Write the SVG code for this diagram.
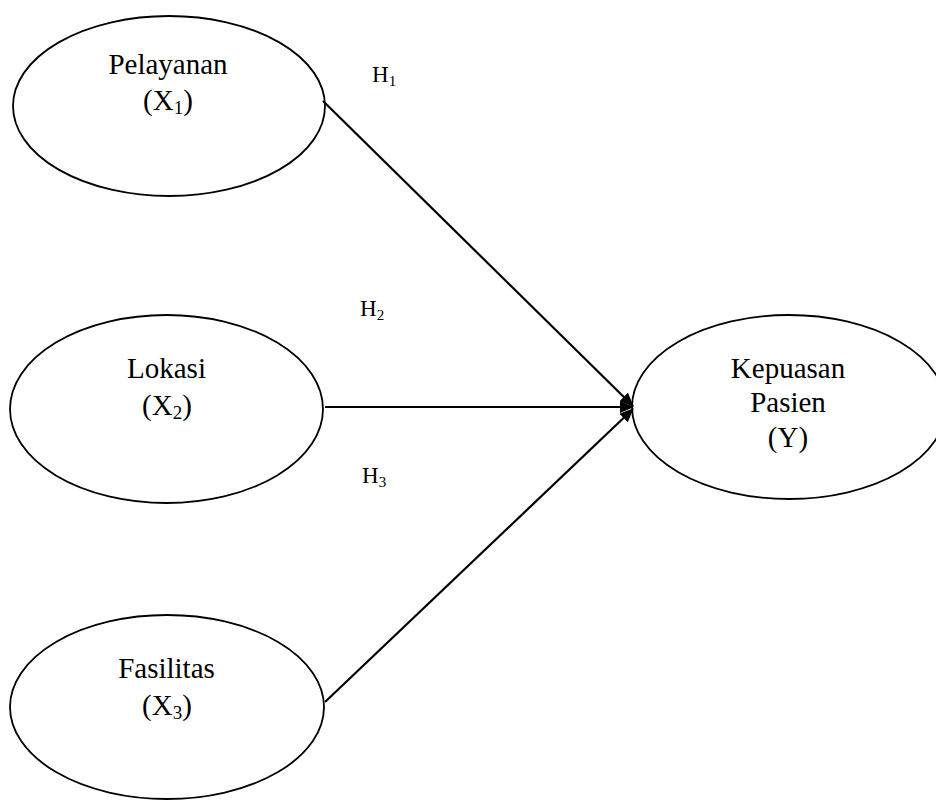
<svg xmlns="http://www.w3.org/2000/svg" width="936" height="800" viewBox="0 0 936 800">
<style>
.node ellipse{fill:#fff;stroke:#000;stroke-width:1.8}
.t{font-family:"Liberation Serif","Times New Roman",serif;font-size:29px;fill:#000;text-anchor:middle}
.h{font-family:"Liberation Serif","Times New Roman",serif;font-size:23px;fill:#000}
.sub{font-size:19px}
.hsub{font-size:15px}
.edge{stroke:#000;stroke-width:2.2;fill:none;marker-end:url(#arr)}
</style>
<defs>
<marker id="arr" markerUnits="userSpaceOnUse" markerWidth="14" markerHeight="12" refX="13" refY="6" orient="auto">
<path d="M0,0 L14,6 L0,12 z" fill="#000"/>
</marker>
</defs>
<rect width="936" height="800" fill="#fff"/>
<g id="n1" class="node">
<ellipse cx="169" cy="106" rx="156" ry="90"/>
<text class="t" x="168" y="74">Pelayanan</text>
<text class="t" x="168" y="110">(X<tspan class="sub" dy="4">1</tspan><tspan dy="-4">)</tspan></text>
</g>
<g id="n2" class="node">
<ellipse cx="166.5" cy="409" rx="156.5" ry="94"/>
<text class="t" x="166.5" y="378">Lokasi</text>
<text class="t" x="167" y="415">(X<tspan class="sub" dy="4">2</tspan><tspan dy="-4">)</tspan></text>
</g>
<g id="n3" class="node">
<ellipse cx="167" cy="707" rx="157" ry="92"/>
<text class="t" x="166.5" y="678">Fasilitas</text>
<text class="t" x="167" y="715">(X<tspan class="sub" dy="4">3</tspan><tspan dy="-4">)</tspan></text>
</g>
<g id="n4" class="node">
<ellipse cx="789" cy="407" rx="157" ry="92"/>
<text class="t" x="788" y="378">Kepuasan</text>
<text class="t" x="788" y="412">Pasien</text>
<text class="t" x="788" y="447">(Y)</text>
</g>
<g id="edges">
<line class="edge" x1="323" y1="101" x2="633" y2="406"/>
<line class="edge" x1="325" y1="407" x2="633" y2="407"/>
<line class="edge" x1="325" y1="702" x2="633" y2="409"/>
</g>
<g id="labels">
<text class="h" x="372" y="82">H<tspan class="hsub" dy="4">1</tspan></text>
<text class="h" x="360" y="316">H<tspan class="hsub" dy="4">2</tspan></text>
<text class="h" x="362" y="483">H<tspan class="hsub" dy="4">3</tspan></text>
</g>
</svg>
